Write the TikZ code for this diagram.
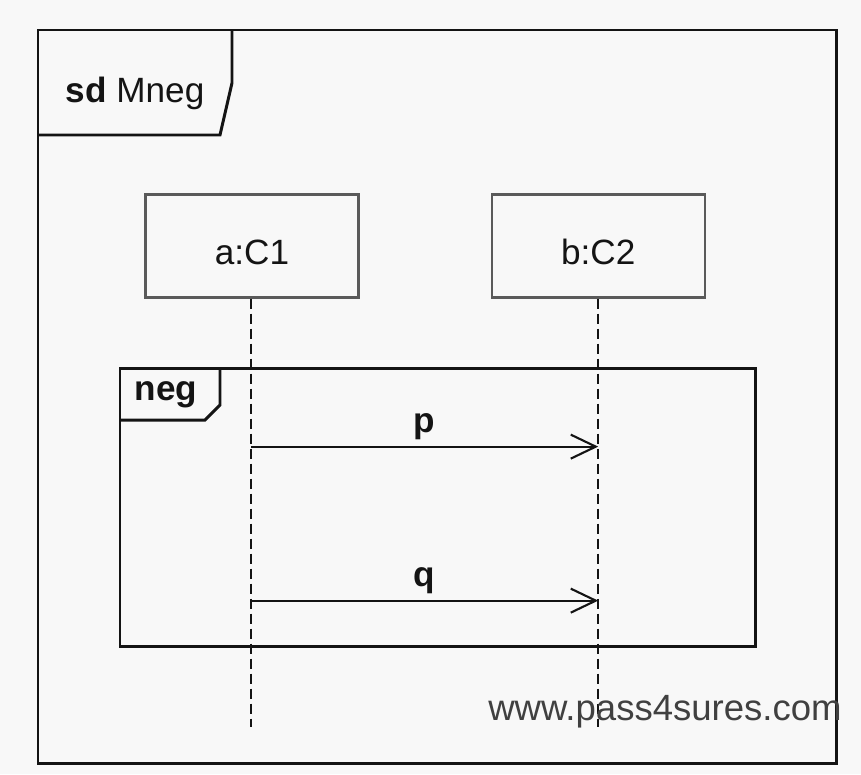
\documentclass[tikz,border=0pt]{standalone}
\usepackage{fontspec}
\setmainfont{Liberation Sans}
\usetikzlibrary{arrows.meta,positioning}
\definecolor{fondo}{RGB}{248,248,248}
\definecolor{linea}{RGB}{20,20,20}
\definecolor{borde}{RGB}{90,90,90}

\begin{document}
\begin{tikzpicture}[x=0.02cm, y=-0.02cm, node distance=2.62cm,
            every node/.style={font=\fontsize{20}{24}\selectfont, text=linea},
            vida/.style={rectangle, draw=borde, line width=1.3pt, fill=fondo, minimum width=4.26cm, minimum height=2.06cm, text height=0.74cm},
            linvida/.style={draw=linea, line width=1.2pt, dash pattern=on 0.2cm off 0.1cm},
            mensaje/.style={draw=linea, line width=1.2pt, -{Straight Barb[length=0.5cm, width=0.48cm, line width=1.2pt]}},
            marco/.style={draw=linea, line width=1.7pt}]

            % Fondo
            \useasboundingbox[fill=fondo] (0,0) rectangle (861,774);

            % Marco sd
            \draw[marco] (38,30) rectangle (836,763);
            \draw[marco] (38,135) -- (220,135) -- (232,83) -- (232,30);
            \node (titulo) at (135,93) {\textbf{sd} Mneg};

            % Lineas de vida
            \node[vida] (a) at (252,246) {a:C1};
            \node[vida, right=of a] (b) {b:C2};

            % Fragmento neg
            \draw[marco] (120,368) rectangle (755,646);
            \draw[marco] (120,420) -- (205,420) -- (220,405) -- (220,368);
            \node (etiqneg) at (166,395) {\bfseries neg};

            \path (a.south) ++(-1,428) coordinate (afin);
            \path (b.south) ++(0,428) coordinate (bfin);
            \draw[linvida] (a.south) ++(-1,0) -- (afin);
            \draw[linvida] (b.south) -- (bfin);

            % Mensajes
            \path (afin) ++(0,-280) coordinate (pa);
            \path (bfin) ++(0,-280) coordinate (pb);
            \path (afin) ++(0,-126) coordinate (qa);
            \path (bfin) ++(0,-126) coordinate (qb);
            \draw[mensaje] (pa) -- node[above=0cm] (etiqp) {\bfseries p} (pb);
            \draw[mensaje] (qa) -- node[above=0cm] (etiqq) {\bfseries q} (qb);

            % Marca
            \node[font=\fontsize{20.8}{25}\selectfont, text=black!75] (marca) at (665,712) {www.pass4sures.com};

        \end{tikzpicture}
\end{document}
